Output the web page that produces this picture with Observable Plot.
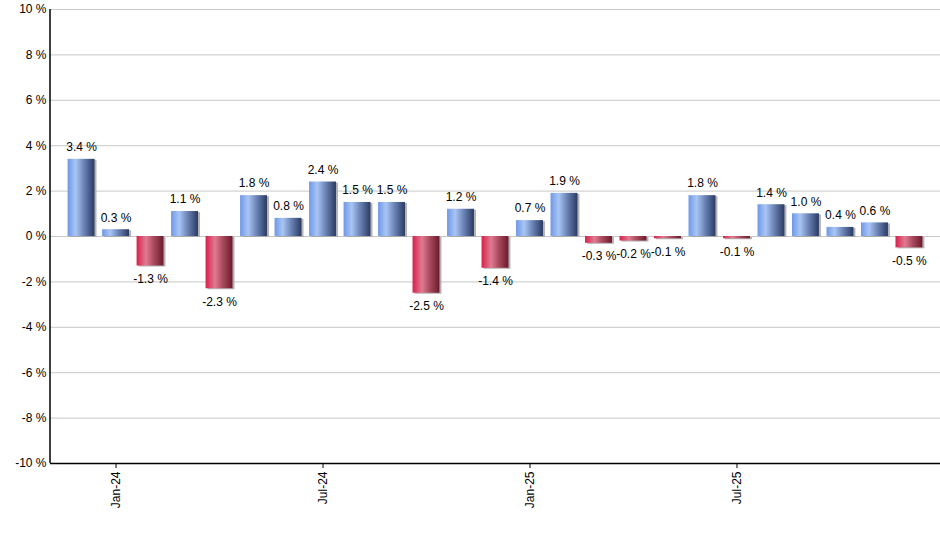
<!DOCTYPE html>
<html>
<head>
<meta charset="utf-8">
<script src="https://cdn.jsdelivr.net/npm/d3@7"></script>
<script src="https://cdn.jsdelivr.net/npm/@observablehq/plot@0.6"></script>
<style>
  html, body { margin: 0; padding: 0; background: #fff; }
  #chart { width: 940px; height: 550px; }
</style>
</head>
<body>
<div id="chart"></div>
<script>
const months = ["Dec-23","Jan-24","Feb-24","Mar-24","Apr-24","May-24","Jun-24","Jul-24","Aug-24","Sep-24","Oct-24","Nov-24","Dec-24","Jan-25","Feb-25","Mar-25","Apr-25","May-25","Jun-25","Jul-25","Aug-25","Sep-25","Oct-25","Nov-25","Dec-25"];
const values = [3.4,0.3,-1.3,1.1,-2.3,1.8,0.8,2.4,1.5,1.5,-2.5,1.2,-1.4,0.7,1.9,-0.3,-0.2,-0.1,1.8,-0.1,1.4,1.0,0.4,0.6,-0.5];
const xTicks = ["Jan-24","Jul-24","Jan-25","Jul-25"];
const yTicks = [-10,-8,-6,-4,-2,0,2,4,6,8,10];

const data = months.map((m, i) => ({month: m, value: values[i]}));
const pos = data.filter(d => d.value >= 0);
const neg = data.filter(d => d.value < 0);
const fmt = v => v.toFixed(1) + " %";
const ns = "http://www.w3.org/2000/svg";

const defs = () => {
  const g = document.createElementNS(ns, "defs");
  g.innerHTML = `
    <linearGradient id="gBlue" x1="0" y1="0" x2="1" y2="0">
      <stop offset="0" stop-color="#6e98e6"/>
      <stop offset="0.3" stop-color="#a9c5f5"/>
      <stop offset="0.6" stop-color="#6d86b8"/>
      <stop offset="1" stop-color="#2a3a62"/>
    </linearGradient>
    <linearGradient id="gRed" x1="0" y1="0" x2="1" y2="0">
      <stop offset="0" stop-color="#d81f4a"/>
      <stop offset="0.35" stop-color="#e07b91"/>
      <stop offset="0.65" stop-color="#a8485c"/>
      <stop offset="1" stop-color="#6a1a2b"/>
    </linearGradient>`;
  return g;
};

// left axis line drawn from the plot's own dimensions
const leftLine = (index, scales, values, dim) => {
  const l = document.createElementNS(ns, "line");
  const x = dim.marginLeft;
  l.setAttribute("x1", x); l.setAttribute("x2", x);
  l.setAttribute("y1", dim.marginTop); l.setAttribute("y2", dim.height - dim.marginBottom);
  l.setAttribute("stroke", "#000"); l.setAttribute("stroke-width", "1.5");
  return l;
};

const plot = Plot.plot({
  width: 940,
  height: 550,
  marginLeft: 50,
  marginRight: 0,
  marginTop: 9,
  marginBottom: 87,
  style: {fontFamily: "Liberation Sans, Arial, sans-serif", fontSize: "12px", background: "#fff", color: "#000"},
  x: {type: "band", domain: months, paddingInner: 0.22, paddingOuter: 0.51, round: false, axis: null, label: null},
  y: {domain: [-10, 10], axis: null, label: null},
  marks: [
    defs,
    Plot.gridY(yTicks, {stroke: "#c8c8c8", strokeOpacity: 1, strokeWidth: 1}),
    Plot.barY(data, {x: "month", y: "value", fill: "#a0a0a0", fillOpacity: 0.8, dx: 2, dy: 1}),
    Plot.barY(pos, {x: "month", y: "value", fill: "url(#gBlue)"}),
    Plot.barY(neg, {x: "month", y: "value", fill: "url(#gRed)"}),
    Plot.text(pos, {x: "month", y: "value", text: d => fmt(d.value), dy: -12, fill: "#000", fontSize: 12}),
    Plot.text(neg, {x: "month", y: "value", text: d => fmt(d.value), dy: 13, fill: "#000", fontSize: 12}),
    Plot.axisY(yTicks, {tickSize: 0, tickPadding: 4, tickFormat: d => d + " %", fontSize: 12, fill: "#000", label: null}),
    Plot.axisX(xTicks, {tickSize: 5, tickPadding: 3, tickRotate: -90, fontSize: 12, fill: "#000", stroke: "#000", label: null}),
    leftLine,
    Plot.ruleY([-10], {stroke: "#000", strokeWidth: 1.5})
  ]
});
document.getElementById("chart").appendChild(plot);
</script>
</body>
</html>
